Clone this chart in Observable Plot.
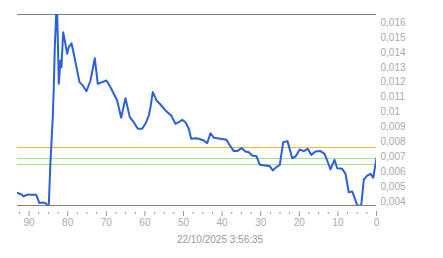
<!DOCTYPE html>
<html>
<head>
<meta charset="utf-8">
<script src="https://cdn.jsdelivr.net/npm/d3@7"></script>
<script src="https://cdn.jsdelivr.net/npm/@observablehq/plot@0.6"></script>
<style>
  html, body { margin: 0; padding: 0; background: #fff; }
  #chart { width: 443px; height: 258px; }
</style>
</head>
<body>
<div id="chart"></div>
<script>
// Age of each sample (units ago) and the measured value
const ago = [93.0, 91.97, 91.37, 90.67, 88.16, 87.31, 86.45, 85.75, 85.16, 84.9,
  84.46, 83.86, 83.6, 83.34, 82.98, 82.72, 82.56, 82.3, 81.87, 81.61,
  81.17, 80.75, 80.13, 79.72, 79.02, 78.42, 76.94, 76.09, 75.13, 74.09,
  72.98, 72.2, 71.06, 69.95, 68.91, 67.18, 66.14, 65.03, 63.91, 62.88,
  61.84, 60.7, 59.66, 58.99, 58.55, 57.95, 56.99, 55.96, 54.66, 53.19,
  52.07, 51.22, 50.34, 49.48, 48.63, 48.01, 46.89, 46.04, 44.74, 43.86,
  43.01, 42.15, 40.41, 38.86, 38.26, 36.97, 36.09, 34.97, 33.94, 33.08,
  32.2, 31.09, 30.23, 28.76, 27.64, 26.87, 25.98, 25.05, 24.17, 23.06,
  21.84, 20.98, 19.87, 18.83, 17.8, 16.92, 15.8, 14.51, 13.47, 12.77,
  11.92, 10.88, 10.18, 8.89, 8.03, 7.18, 6.3, 5.88, 5.0, 3.96,
  3.29, 2.41, 1.55, 0.85, 0];
const values = [0.00458, 0.00447, 0.00434, 0.00445, 0.00445, 0.00389, 0.00393, 0.00389, 0.00373, 0.00373,
  0.00664, 0.00966, 0.01167, 0.01436, 0.01655, 0.01655, 0.01494, 0.0119, 0.01346, 0.01301,
  0.01536, 0.0148, 0.01391, 0.01436, 0.01462, 0.01391, 0.01201, 0.01179, 0.0114, 0.01212,
  0.01362, 0.0119, 0.01201, 0.01212, 0.01167, 0.01078, 0.00962, 0.01093, 0.00966, 0.00932,
  0.00888, 0.00888, 0.00932, 0.00977, 0.01033, 0.01134, 0.01078, 0.01051, 0.01011, 0.00977,
  0.00921, 0.00932, 0.00948, 0.00932, 0.00888, 0.00821, 0.00825, 0.00821, 0.00809, 0.00791,
  0.00858, 0.00828, 0.00821, 0.00814, 0.00787, 0.00738, 0.00738, 0.00758, 0.00736, 0.00731,
  0.00709, 0.00704, 0.00646, 0.00642, 0.00637, 0.00608, 0.0063, 0.00646, 0.00798, 0.00805,
  0.00691, 0.00702, 0.00749, 0.00738, 0.00754, 0.00713, 0.00736, 0.00738, 0.0072, 0.00675,
  0.00615, 0.0068, 0.00623, 0.00619, 0.00586, 0.00462, 0.00467, 0.0044, 0.00373, 0.00373,
  0.00546, 0.00574, 0.00586, 0.00559, 0.00691];

// Reference levels
const upperLevel = [0.00762];
const lowerLevels = [0.00687, 0.00648];

// Axis ticks
const yTicks = [0.004, 0.005, 0.006, 0.007, 0.008, 0.009, 0.01, 0.011, 0.012, 0.013, 0.014, 0.015, 0.016];
const xMajorTicks = [90, 80, 70, 60, 50, 40, 30, 20, 10, 0];
const xMinorTicks = [92.5, 87.5, 85, 82.5, 77.5, 75, 72.5, 67.5, 65, 62.5, 57.5, 55, 52.5,
  47.5, 45, 42.5, 37.5, 35, 32.5, 27.5, 25, 22.5, 17.5, 15, 12.5, 7.5, 5, 2.5];
const xDomain = [93, 0];
const yDomain = [0.00373, 0.01655];
const caption = "22/10/2025 3:56:35";

const data = ago.map((a, i) => ({ago: a, value: values[i]}));
const fmt = (d) => String(+d.toFixed(3)).replace(".", ",");

const chart = Plot.plot({
  width: 443,
  height: 258,
  marginLeft: 17,
  marginRight: 67,
  marginTop: 14,
  marginBottom: 53,
  style: {fontFamily: "'Liberation Sans', Arial, sans-serif", fontSize: "10px", color: "#aaa", background: "#fff"},
  x: {domain: xDomain, label: null},
  y: {domain: yDomain, label: null},
  marks: [
    Plot.ruleY(upperLevel, {stroke: "#ecbc28", strokeWidth: 1, shapeRendering: "crispEdges"}),
    Plot.ruleY(lowerLevels, {stroke: "#a6df8e", strokeWidth: 1, shapeRendering: "crispEdges"}),
    Plot.ruleY(yDomain, {stroke: "#808080", strokeWidth: 1, shapeRendering: "crispEdges"}),
    Plot.line(data, {x: "ago", y: "value", stroke: "#2a60d8", strokeWidth: 2, clip: true}),
    Plot.axisY({anchor: "right", ticks: yTicks, tickSize: 0, tickPadding: 4, tickFormat: fmt, fill: "#aaa", label: null}),
    Plot.axisX({anchor: "bottom", ticks: xMajorTicks, tickSize: 5, tickPadding: 2, dy: 6, stroke: "#999", fill: "#aaa", tickFormat: d => String(d), label: null}),
    Plot.axisX({anchor: "bottom", ticks: xMinorTicks, tickSize: 2, dy: 7, stroke: "#999", text: null, label: null}),
    Plot.text([caption], {frameAnchor: "bottom", dx: 23, dy: 37, fill: "#999", fontSize: 10})
  ]
});
document.getElementById("chart").appendChild(chart);
</script>
</body>
</html>
